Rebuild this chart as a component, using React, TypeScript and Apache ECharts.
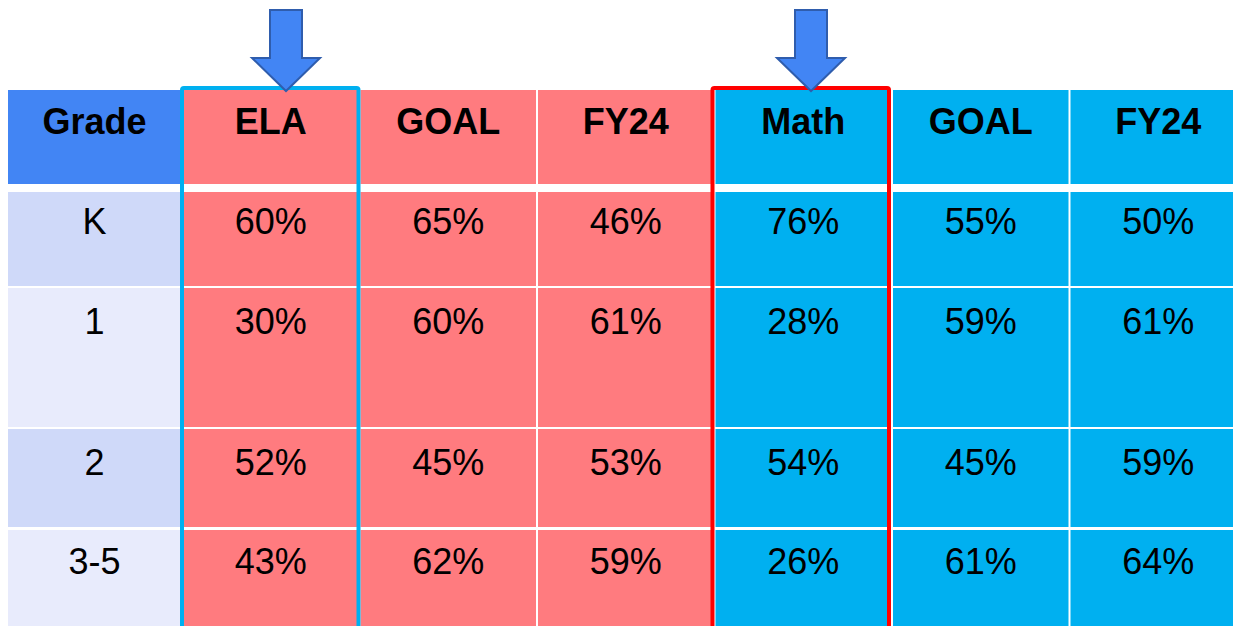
import React, { useEffect, useRef } from "react";
import * as echarts from "echarts";

// ---- data ----
const columns = ["Grade", "ELA", "GOAL", "FY24", "Math", "GOAL", "FY24"];
const grades = ["K", "1", "2", "3-5"];
const elaActual = [60, 30, 52, 43];
const elaGoal = [65, 60, 45, 62];
const elaFY24 = [46, 61, 53, 59];
const mathActual = [76, 28, 54, 26];
const mathGoal = [55, 59, 45, 61];
const mathFY24 = [50, 61, 59, 64];
const highlighted = [1, 4]; // ELA, Math columns

// ---- layout (pixel units on the hidden y value axis) ----
const HEADER_BAND = [90, 184];
const ROW_BANDS = [
  [192, 286],
  [288, 427],
  [429, 527],
  [530, 660],
];
const HEADER_TEXT_OFFSET = 31.5;
const ROW_TEXT_OFFSETS = [29.5, 33.5, 33, 31];
const TABLE_LEFT = 8;

const HEADER_GRADE = "#4285F4";
const ELA_FILL = "#FF7B7F";
const MATH_FILL = "#00B0F0";
const GRADE_ROW_FILLS = ["#CFD9F9", "#E8EBFC"];
const OUTLINE_COLORS = ["#00B0F0", "#FF0000"];
const FONT = "'Liberation Sans', Arial, sans-serif";

function colFill(col: number, row: number) {
  if (col === 0) return row < 0 ? HEADER_GRADE : GRADE_ROW_FILLS[row % 2];
  return col <= 3 ? ELA_FILL : MATH_FILL;
}

export default function App() {
  const ref = useRef<HTMLDivElement>(null);
  useEffect(() => {
    if (!ref.current) return;
    const chart = echarts.init(ref.current, undefined, { renderer: "svg" });

    const valueCols = [elaActual, elaGoal, elaFY24, mathActual, mathGoal, mathFY24];
    const cells: any[] = [];
    columns.forEach((c, ci) => cells.push([ci, -1, c]));
    grades.forEach((g, ri) => {
      cells.push([0, ri, g]);
      valueCols.forEach((arr, vi) => cells.push([vi + 1, ri, arr[ri] + "%"]));
    });

    const arrow = (cx: number) => {
      const sw = 16, hw = 34, top = 10, base = 58, tip = 91;
      return {
        type: "polygon",
        z: 100,
        shape: {
          points: [
            [cx - sw, top], [cx + sw, top], [cx + sw, base], [cx + hw, base],
            [cx, tip], [cx - hw, base], [cx - sw, base],
          ],
        },
        style: { fill: "#4285F4", stroke: "#2F5DAD", lineWidth: 2 },
      };
    };

    chart.setOption({
      animation: false,
      backgroundColor: "#ffffff",
      grid: { left: 4.5, top: 0, width: 1242.5, height: 626 },
      xAxis: { type: "category", data: columns.map((c, i) => c + i), boundaryGap: true, show: false },
      yAxis: { type: "value", min: 0, max: 626, inverse: true, show: false },
      graphic: [arrow(286), arrow(811)],
      series: [
        {
          type: "custom",
          clip: false,
          data: cells,
          renderItem: (params: any, api: any) => {
            const col = api.value(0);
            const row = api.value(1);
            const item = cells[params.dataIndex];
            const band = row < 0 ? HEADER_BAND : ROW_BANDS[row];
            const off = row < 0 ? HEADER_TEXT_OFFSET : ROW_TEXT_OFFSETS[row];
            const c0 = api.coord([col, band[0]]);
            const c1 = api.coord([col, band[1]]);
            const ct = api.coord([col, band[0] + off]);
            const w = api.size([1, 0])[0];
            let x0 = c0[0] - w / 2 + 1;
            const x1 = c0[0] + w / 2 - 1;
            if (col === 0) x0 = Math.max(x0, TABLE_LEFT);
            return {
              type: "group",
              children: [
                {
                  type: "rect",
                  shape: { x: x0, y: c0[1], width: x1 - x0, height: c1[1] - c0[1] },
                  style: { fill: colFill(col, row) },
                },
                {
                  type: "text",
                  style: {
                    x: (x0 + x1) / 2,
                    y: ct[1],
                    text: item[2],
                    fill: "#000000",
                    font: (row < 0 ? "bold " : "") + "36px " + FONT,
                    align: "center",
                    verticalAlign: "middle",
                  },
                },
              ],
            };
          },
        },
        {
          type: "custom",
          clip: false,
          z: 10,
          data: highlighted.map((c) => [c]),
          renderItem: (params: any, api: any) => {
            const col = api.value(0);
            const top = api.coord([col, 88]);
            const bottom = api.coord([col, 660]);
            const w = api.size([1, 0])[0];
            const shift = params.dataIndex === 0 ? 0 : -2;
            return {
              type: "rect",
              shape: { x: top[0] - w / 2 + shift, y: top[1], width: w - 1, height: bottom[1] - top[1], r: 2 },
              style: { fill: "none", stroke: OUTLINE_COLORS[params.dataIndex], lineWidth: 4 },
            };
          },
        },
      ],
    });
    return () => chart.dispose();
  }, []);
  return (
    <div
      ref={ref}
      style={{ position: "fixed", left: 0, top: 0, width: 1250, height: 626, background: "#fff" }}
    />
  );
}
